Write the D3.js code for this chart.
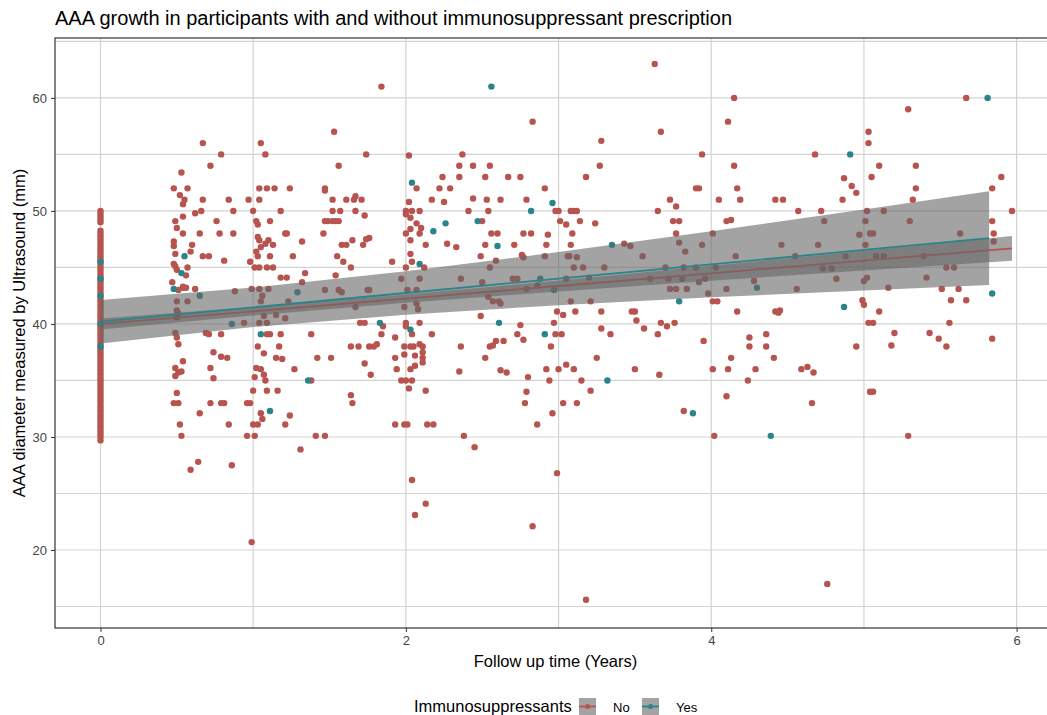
<!DOCTYPE html>
<html>
<head>
<meta charset="utf-8">
<script src="https://cdn.jsdelivr.net/npm/d3@7"></script>
<style>
    body { margin: 0; background: #fff; }
    text { font-family: "Liberation Sans", Arial, sans-serif; }
</style>
</head>
<body>
<svg id="chart" width="1047" height="715"></svg>
<script>
/*Диаметры на исходном визите (время 0), без иммуносупрессантов*/
const noBaseline = [
    50, 49.75, 49.5, 49.25, 49, 48.25, 48, 47.75, 47.5, 47.25, 47, 46.75, 46.5, 46.25, 46, 45.75, 45.5, 45.25, 45,
    44.75, 44.5, 44.25, 44, 43.75, 43.5, 43.25, 43, 42.75, 42.5, 42.25, 42, 41.75, 41.5, 41.25, 41, 40.75, 40.5,
    40.25, 40, 39.75, 39.5, 39.25, 39, 38.75, 38.5, 38.25, 38, 37.75, 37.5, 37.25, 37, 36.75, 36.5, 36.25, 36,
    35.75, 35.5, 35.25, 35, 34.75, 34.5, 34.25, 34, 33.75, 33.5, 33.25, 33, 32.75, 32.5, 32.25, 32, 31.75, 31.5,
    31.25, 31, 30.75, 30.5, 30.25, 30, 29.7
];
/*Остальные точки без иммуносупрессантов: [годы, диаметр мм]*/
const noPoints = [
    [0.67,56.0],[1.05,56.0],[0.79,55.0],[1.08,55.0],[0.72,54.0],[0.53,53.4],[0.48,52.0],[0.57,52.0],[1.04,52.0],[1.09,52.0],
    [1.14,52.0],[1.24,52.0],[0.52,51.4],[0.55,51.0],[0.67,51.0],[0.84,51.0],[0.97,51.0],[1.04,51.0],[0.54,50.6],[0.87,50.0],
    [1.0,50.0],[1.18,50.0],[0.62,49.8],[0.66,50.0],[0.54,49.5],[0.49,49.1],[0.76,49.1],[1.02,49.1],[1.11,49.1],[0.5,48.5],
    [1.03,48.8],[0.54,48.0],[0.65,48.0],[0.78,48.0],[0.87,48.0],[1.21,48.0],[1.22,48.0],[1.03,47.7],[1.04,47.4],[1.1,47.4],
    [1.08,47.1],[1.13,47.0],[1.32,47.3],[0.48,47.3],[0.48,46.9],[0.6,47.0],[0.59,46.4],[0.49,46.2],[0.67,46.0],[0.71,46.0],
    [1.02,46.4],[1.05,46.8],[1.11,46.0],[1.26,46.0],[1.03,46.0],[0.98,45.5],[0.81,45.6],[0.48,45.3],[0.57,45.0],[1.01,45.0],
    [1.04,45.0],[1.09,45.0],[1.13,45.0],[1.18,44.1],[1.22,44.1],[1.34,44.5],[1.32,43.7],[0.56,44.3],[0.49,45.1],[0.5,44.8],
    [0.47,43.7],[0.54,43.2],[0.56,43.2],[0.62,43.1],[0.54,43.3],[0.51,43.0],[0.88,42.9],[0.99,43.1],[1.04,43.1],[1.1,43.1],
    [1.23,42.0],[0.5,42.0],[0.57,42.0],[1.06,42.5],[1.05,42.0],[0.5,41.2],[0.51,40.9],[0.5,40.6],[1.07,40.7],[1.15,40.8],
    [1.21,40.5],[0.94,40.1],[1.04,40.1],[1.09,40.1],[0.49,39.2],[0.5,38.8],[0.69,39.2],[0.71,39.1],[0.79,39.1],[1.09,39.1],
    [1.11,39.1],[1.18,39.1],[1.38,39.1],[0.51,38.2],[1.03,38.0],[1.17,38.0],[0.74,37.5],[1.07,37.4],[0.79,37.1],[0.83,37.0],
    [1.15,37.0],[1.19,36.9],[0.54,36.7],[0.49,36.1],[0.51,35.7],[0.49,35.4],[0.53,35.8],[0.72,36.1],[0.74,35.2],[1.02,36.1],
    [1.05,36.0],[1.01,35.3],[1.07,35.5],[1.08,35.0],[1.27,36.0],[0.5,33.9],[1.0,34.1],[1.09,34.1],[1.16,34.1],[0.48,33.0],
    [0.51,33.0],[0.72,33.0],[0.79,33.0],[0.81,33.0],[0.96,33.0],[0.98,33.0],[0.65,32.1],[1.05,32.1],[1.06,31.6],[1.24,31.9],
    [0.52,31.1],[0.84,31.1],[1.0,31.1],[1.03,31.1],[1.21,31.1],[0.53,30.1],[0.96,30.1],[1.01,30.1],[1.31,28.9],[0.64,27.8],
    [0.59,27.1],[0.86,27.5],[0.99,20.7],
    [1.84,61.0],[1.53,57.0],[1.74,55.0],[2.02,54.9],[2.37,55.0],[1.56,54.0],[2.35,54.0],[2.44,54.0],[2.24,53.0],[2.35,53.0],
    [1.47,52.0],[1.47,51.8],[2.07,52.0],[2.22,52.0],[2.29,52.0],[1.52,51.0],[1.61,51.0],[1.67,51.3],[1.66,51.0],[1.71,51.0],
    [2.02,50.8],[2.17,51.0],[2.25,50.8],[2.44,51.1],[1.52,50.0],[1.57,50.0],[1.67,50.0],[1.73,49.6],[2.0,50.0],[2.04,50.0],
    [2.09,50.0],[2.41,50.0],[1.47,49.1],[1.49,49.1],[1.52,49.1],[1.54,49.1],[1.56,49.1],[2.0,49.7],[2.03,49.4],[1.46,48.0],
    [1.58,47.0],[1.61,47.0],[1.65,47.4],[1.72,47.0],[1.74,47.5],[1.76,47.6],[2.0,48.0],[2.03,48.4],[2.07,48.9],[2.09,48.0],
    [2.1,48.5],[2.13,47.0],[2.03,47.4],[2.27,47.1],[2.33,46.8],[1.55,46.0],[1.59,45.5],[1.64,45.0],[1.91,45.5],[2.03,46.2],
    [2.04,45.5],[2.0,45.0],[2.12,45.0],[2.49,46.0],[1.54,44.3],[1.97,44.0],[2.09,44.0],[2.36,44.0],[1.47,43.0],[1.56,43.0],
    [1.58,42.8],[1.75,43.0],[1.76,43.0],[2.01,43.0],[2.07,43.0],[1.67,41.5],[1.99,41.5],[2.07,41.8],[2.08,41.3],[1.7,40.1],
    [1.73,40.1],[1.85,39.8],[2.0,40.1],[2.0,39.8],[2.09,40.1],[2.49,40.7],[1.84,39.1],[1.93,38.8],[2.04,39.1],[2.17,39.1],
    [1.64,38.0],[1.69,38.0],[1.76,38.0],[1.79,38.0],[1.81,38.2],[1.99,38.0],[2.03,38.0],[2.05,38.0],[2.09,38.2],[2.11,38.0],
    [2.36,38.0],[1.42,37.0],[1.51,37.0],[1.93,37.0],[1.99,37.3],[2.06,37.2],[2.11,37.5],[2.11,37.0],[1.73,36.5],[1.94,36.0],
    [2.03,36.0],[2.06,36.3],[2.11,36.6],[1.77,35.5],[2.35,35.8],[1.38,35.0],[1.97,35.0],[2.0,35.0],[2.04,35.0],[2.02,34.3],
    [2.13,34.1],[1.64,33.7],[1.65,33.0],[1.93,31.1],[1.99,31.1],[2.01,31.1],[2.14,31.1],[2.18,31.1],[1.41,30.1],[1.47,30.1],
    [2.38,30.1],[2.45,29.1],[2.04,26.2],[2.13,24.1],[2.06,23.1],
    [3.63,63.0],[2.83,57.9],[3.67,57.0],[3.28,56.2],[2.55,54.0],[3.27,54.0],[2.52,53.0],[2.67,53.0],[2.75,53.0],[3.18,53.0],
    [2.91,52.0],[2.53,51.0],[2.62,51.0],[2.79,51.0],[3.73,51.0],[2.54,50.0],[2.98,50.0],[3.0,50.0],[3.08,50.0],[3.1,50.0],
    [3.12,50.0],[3.65,50.0],[2.5,49.1],[3.01,49.1],[3.05,48.8],[3.14,49.1],[3.24,48.9],[2.56,48.0],[2.6,48.0],[2.77,48.0],
    [2.82,48.0],[2.93,47.9],[3.09,48.0],[2.52,47.0],[2.71,47.0],[2.92,47.0],[3.08,47.0],[3.43,47.1],[3.47,46.9],[2.59,45.6],
    [2.76,46.1],[2.77,45.9],[2.91,46.0],[3.06,46.0],[3.07,46.0],[3.12,45.9],[3.55,46.0],[2.55,45.0],[3.1,45.0],[3.16,45.0],
    [3.3,45.0],[3.7,45.0],[2.5,43.7],[2.7,44.0],[2.73,44.0],[3.05,44.0],[3.2,44.1],[3.6,44.0],[3.72,44.0],[2.54,42.4],
    [2.57,42.0],[2.61,42.0],[2.62,41.8],[2.79,43.1],[2.86,43.4],[3.08,42.0],[3.21,42.0],[3.73,43.1],[2.99,41.1],[3.03,40.8],
    [3.11,41.1],[3.28,41.1],[3.48,41.1],[3.5,41.1],[3.51,40.3],[3.67,40.1],[3.71,39.8],[2.75,39.9],[2.97,40.1],[2.73,39.1],
    [2.98,39.1],[3.02,39.1],[3.34,39.1],[3.56,39.6],[3.28,39.6],[3.65,39.1],[2.77,38.6],[2.95,38.0],[2.55,38.0],[2.57,38.1],
    [2.59,38.5],[2.64,38.5],[2.52,37.0],[3.25,37.0],[2.62,35.9],[2.66,35.7],[2.92,36.0],[3.0,36.0],[3.05,36.4],[3.1,36.0],
    [3.5,36.0],[2.8,35.3],[2.94,35.0],[3.15,35.0],[3.66,35.5],[2.79,34.0],[3.21,34.1],[2.78,33.0],[3.03,33.0],[3.12,33.0],
    [2.96,32.1],[2.86,31.1],[2.99,26.8],[2.83,22.1],[3.18,15.6],
    [4.15,60.0],[4.11,57.9],[3.94,55.0],[4.68,55.0],[4.15,54.0],[4.87,52.9],[3.9,52.0],[3.92,52.0],[4.17,52.0],[4.05,51.0],
    [4.19,51.0],[4.42,51.0],[4.47,51.0],[4.86,51.0],[3.77,50.4],[4.57,50.0],[4.72,50.0],[3.75,49.1],[3.79,49.1],[4.1,49.1],
    [4.13,49.2],[4.74,49.1],[3.77,48.0],[4.01,48.0],[3.79,47.2],[3.94,47.0],[4.46,47.0],[4.7,47.0],[3.83,46.4],[4.16,46.0],
    [4.55,46.0],[4.88,46.0],[3.82,45.0],[3.9,45.0],[4.03,45.0],[4.73,44.9],[4.79,44.9],[3.81,44.0],[3.96,44.0],[4.28,43.8],
    [4.82,44.0],[3.77,43.1],[3.84,43.1],[3.92,43.7],[4.1,43.1],[4.56,43.1],[3.98,42.7],[4.01,42.0],[4.04,42.0],[4.17,41.1],
    [4.42,41.1],[4.45,41.2],[4.44,41.0],[3.76,40.1],[3.95,38.5],[4.25,38.8],[4.25,38.0],[4.36,39.1],[4.36,38.0],[4.41,37.0],
    [4.13,37.0],[4.01,36.0],[4.11,36.0],[4.29,36.0],[4.24,35.0],[4.59,36.0],[4.63,36.2],[4.67,35.7],[4.1,33.6],[3.82,32.3],
    [4.66,33.0],[4.02,30.1],[4.76,17.0],
    [5.67,60.0],[5.29,59.0],[5.03,57.0],[5.03,56.0],[5.1,54.0],[5.34,54.0],[5.05,53.0],[5.9,53.0],[4.92,52.2],[4.95,51.6],
    [5.34,52.0],[5.84,52.0],[5.32,51.0],[5.02,50.0],[5.13,50.0],[5.97,50.0],[5.01,49.1],[5.3,49.1],[5.84,49.1],[4.97,47.9],
    [5.04,48.0],[5.06,48.0],[5.63,48.0],[5.85,48.0],[5.01,47.0],[5.85,47.3],[5.08,46.0],[5.13,46.0],[5.39,46.0],[5.54,45.0],
    [5.59,45.0],[5.0,43.8],[5.02,44.1],[5.41,44.1],[5.16,43.2],[5.51,43.1],[5.62,43.1],[4.99,42.1],[5.0,41.7],[5.57,42.1],
    [5.67,42.1],[5.1,41.1],[5.03,40.1],[5.06,40.1],[5.56,40.1],[5.2,39.2],[5.43,39.2],[5.49,38.7],[5.84,38.7],[4.95,38.0],
    [5.18,38.1],[5.54,38.0],[5.04,34.0],[5.06,34.0],[5.29,30.1]
];
/*Точки с иммуносупрессантами*/
const yesPoints = [
    [0,45.5],[0,44],[0,42.5],[0,40],[0,38],[0.55,46.0],[0.53,44.5],[0.48,43.1],[0.65,42.5],[1.29,42.8],[0.86,40.0],
    [1.05,39.1],[1.36,35.0],[1.11,32.3],[2.04,52.5],[2.26,48.9],[2.18,48.2],[2.47,49.1],[2.09,45.3],[1.83,40.1],[2.03,39.5],
    [2.56,61.0],[2.96,50.7],[2.82,50.0],[2.6,46.9],[3.35,47.0],[2.88,44.0],[2.97,43.0],[2.61,40.1],[2.91,39.1],[3.32,35.0],
    [4.3,43.2],[3.79,42.0],[4.87,41.5],[3.88,32.1],[4.39,30.1],[5.81,60.0],[4.91,55.0],[5.84,42.7]
];

/*Линии регрессии и доверительные интервалы*/
const noFitTime = [0, 1, 2, 3, 4, 5, 5.97];
const noFit     = [40.0, 41.12, 42.24, 43.36, 44.48, 45.6, 46.69];
const noLow     = [39.51, 40.75, 41.88, 42.88, 43.82, 44.73, 45.59];
const noHigh    = [40.49, 41.49, 42.6, 43.84, 45.14, 46.47, 47.79];

const yesFitTime = [0, 1, 2, 3, 4, 5, 5.82];
const yesFit     = [40.2, 41.47, 42.74, 44.01, 45.28, 46.55, 47.59];
const yesLow     = [38.28, 39.72, 40.82, 41.66, 42.36, 42.97, 43.44];
const yesHigh    = [42.12, 43.22, 44.66, 46.36, 48.2, 50.13, 51.74];

const xTicks = [0, 2, 4, 6];
const xMinor = [1, 3, 5];
const yTicks = [20, 30, 40, 50, 60];
const yMinor = [15, 25, 35, 45, 55, 65];
const groups = ['No', 'Yes'];

const colors = { No: '#b8544f', Yes: '#2b8489' };
const panel = { left: 55, top: 38, right: 1056, bottom: 628 };

const svg = d3.select('#chart');
const x = d3.scaleLinear().domain([-0.298, 6.258]).range([panel.left, panel.right]);
const y = d3.scaleLinear().domain([13.1, 65.3]).range([panel.bottom, panel.top]);

svg.append('defs').append('clipPath').attr('id', 'clip')
    .append('rect')
        .attr('x', panel.left).attr('y', panel.top)
        .attr('width', panel.right - panel.left).attr('height', panel.bottom - panel.top);

/*Сетка*/
let grid = svg.append('g').attr('class', 'grid');
grid.selectAll('line.vx')
    .data(xTicks.concat(xMinor))
    .enter().append('line')
        .attr('x1', d => x(d)).attr('x2', d => x(d))
        .attr('y1', panel.top).attr('y2', panel.bottom)
        .attr('stroke', '#d3d3d3').attr('stroke-width', 1.2);
grid.selectAll('line.hy')
    .data(yTicks.concat(yMinor))
    .enter().append('line')
        .attr('y1', d => y(d)).attr('y2', d => y(d))
        .attr('x1', panel.left).attr('x2', panel.right)
        .attr('stroke', '#d3d3d3').attr('stroke-width', 1.2);

let plot = svg.append('g').attr('clip-path', 'url(#clip)');

/*Точки*/
let allNo = noBaseline.map(d => [0, d]).concat(noPoints);
plot.append('g').selectAll('circle')
    .data(allNo)
    .enter().append('circle')
        .attr('cx', d => x(d[0])).attr('cy', d => y(d[1]))
        .attr('r', 3.2).attr('fill', colors.No);
plot.append('g').selectAll('circle')
    .data(yesPoints)
    .enter().append('circle')
        .attr('cx', d => x(d[0])).attr('cy', d => y(d[1]))
        .attr('r', 3.2).attr('fill', colors.Yes);

/*Регрессия: лента + линия для каждой группы*/
const fits = [
    { key: 'No', t: noFitTime, fit: noFit, lo: noLow, hi: noHigh },
    { key: 'Yes', t: yesFitTime, fit: yesFit, lo: yesLow, hi: yesHigh }
];
const area = d3.area().x(d => x(d.t)).y0(d => y(d.lo)).y1(d => y(d.hi));
const line = d3.line().x(d => x(d.t)).y(d => y(d.fit));
fits.forEach(function(f) {
    let rows = f.t.map((t, i) => ({ t: t, fit: f.fit[i], lo: f.lo[i], hi: f.hi[i] }));
    plot.append('path').datum(rows)
        .attr('d', area)
        .attr('fill', '#666666').attr('fill-opacity', 0.6);
    plot.append('path').datum(rows)
        .attr('d', line)
        .attr('fill', 'none').attr('stroke', colors[f.key]).attr('stroke-width', 1.8);
});

/*Рамка панели*/
svg.append('rect')
    .attr('x', panel.left).attr('y', panel.top)
    .attr('width', panel.right - panel.left).attr('height', panel.bottom - panel.top)
    .attr('fill', 'none').attr('stroke', '#333').attr('stroke-width', 1.2);

/*Оси*/
let xAxis = svg.append('g')
    .attr('transform', 'translate(0,' + panel.bottom + ')')
    .call(d3.axisBottom(x).tickValues(xTicks).tickFormat(d3.format('d')).tickSize(4).tickPadding(4));
let yAxis = svg.append('g')
    .attr('transform', 'translate(' + panel.left + ',0)')
    .call(d3.axisLeft(y).tickValues(yTicks).tickFormat(d3.format('d')).tickSize(4).tickPadding(4));
[xAxis, yAxis].forEach(function(a) {
    a.select('.domain').remove();
    a.selectAll('.tick line').attr('stroke', '#333');
    a.selectAll('.tick text')
        .attr('font-family', '"Liberation Sans", Arial, sans-serif')
        .attr('font-size', 13).attr('fill', '#444');
});

/*Заголовки*/
svg.append('text')
    .attr('x', panel.left).attr('y', 25)
    .attr('font-size', 20).attr('fill', '#000')
    .text('AAA growth in participants with and without immunosuppressant prescription');
svg.append('text')
    .attr('x', (panel.left + panel.right) / 2).attr('y', 667)
    .attr('text-anchor', 'middle').attr('font-size', 16.5).attr('fill', '#000')
    .text('Follow up time (Years)');
svg.append('text')
    .attr('transform', 'translate(25,' + ((panel.top + panel.bottom) / 2) + ') rotate(-90)')
    .attr('text-anchor', 'middle').attr('font-size', 16.5).attr('fill', '#000')
    .text('AAA diameter measured by Ultrasound (mm)');

/*Легенда*/
let legend = svg.append('g');
legend.append('text')
    .attr('x', 414).attr('y', 712)
    .attr('font-size', 16.5).attr('fill', '#000')
    .text('Immunosuppressants');
const keyX = { No: 579, Yes: 642 };
groups.forEach(function(g) {
    let k = legend.append('g').attr('transform', 'translate(' + keyX[g] + ',698)');
    k.append('rect').attr('width', 17).attr('height', 17).attr('fill', '#a3a3a3');
    k.append('line').attr('x1', 0).attr('x2', 17).attr('y1', 8.5).attr('y2', 8.5)
        .attr('stroke', colors[g]).attr('stroke-width', 1.8);
    k.append('circle').attr('cx', 8.5).attr('cy', 8.5).attr('r', 2.5).attr('fill', colors[g]);
    legend.append('text')
        .attr('x', keyX[g] + 34).attr('y', 712)
        .attr('font-size', 13).attr('fill', '#000')
        .text(g);
});
</script>
</body>
</html>
